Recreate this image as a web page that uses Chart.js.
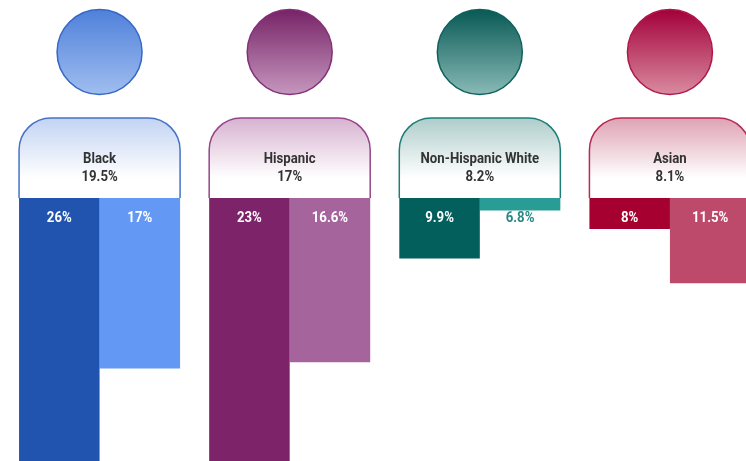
<!DOCTYPE html>
<html>
<head>
<meta charset="utf-8">
<script src="https://cdn.jsdelivr.net/npm/chart.js@4"></script>
<style>
  html, body { margin: 0; padding: 0; background: #fff; overflow: hidden; }
  #wrap { width: 746px; height: 461px; overflow: hidden; position: relative; }
  canvas { display: block; }
</style>
</head>
<body>
<div id="wrap"><canvas id="c" width="765" height="508"></canvas></div>
<script>
// Groups and their figures (percent)
const groups = ['Black', 'Hispanic', 'Non-Hispanic White', 'Asian'];
const overall = [19.5, 17, 8.2, 8.1];
const seriesA = [26, 23, 9.9, 8];
const seriesB = [17, 16.6, 6.8, 11.5];

// Palette per group
const darkColors  = ['#2054AE', '#7C236A', '#035F5B', '#A5002F'];
const lightColors = ['#6399F5', '#A6649D', '#2A9C96', '#BD4A6B'];
const outsideText = ['#3F72C8', '#8C4A80', '#2A8884', '#A83A5A'];
const headTop     = ['#4F80DA', '#772366', '#085955', '#A3003A'];
const headBottom  = ['#A0BEEF', '#C597BE', '#89BAB6', '#D98BA0'];
const headBorder  = ['#3667C8', '#82307A', '#0E615D', '#B0184A'];
const bodyTop     = ['#C2D3F2', '#D7B2D0', '#AECDCA', '#DEA2B4'];
const bodyBorder  = ['#4672C8', '#95458A', '#1F7D77', '#B72A52'];

const FONT = 'Roboto, "Liberation Sans", sans-serif';
const SQUEEZE = 0.88;   // horizontal condensing of label text

function fmt(v) { return v + '%'; }

function condensedText(ctx, text, x, y) {
  ctx.save();
  ctx.translate(x, y);
  ctx.scale(SQUEEZE, 1);
  ctx.fillText(text, 0, 0);
  ctx.restore();
}

// Draws the head and the rounded torso above each pair of bars
const figurePlugin = {
  id: 'figures',
  beforeDatasetsDraw(chart) {
    const ctx = chart.ctx;
    const xs = chart.scales.x;
    const base = chart.scales.y.getBasePixel();
    const meta0 = chart.getDatasetMeta(0);
    const meta1 = chart.getDatasetMeta(1);
    groups.forEach((name, i) => {
      const cx = xs.getPixelForValue(i);
      const left = meta0.data[i].x - meta0.data[i].width / 2;
      const right = meta1.data[i].x + meta1.data[i].width / 2;
      // head
      const hy = base - 146, r = 42.5;
      ctx.save();
      let g = ctx.createLinearGradient(0, hy - r, 0, hy + r);
      g.addColorStop(0, headTop[i]);
      g.addColorStop(1, headBottom[i]);
      ctx.beginPath();
      ctx.arc(cx, hy, r, 0, Math.PI * 2);
      ctx.fillStyle = g;
      ctx.fill();
      ctx.lineWidth = 1.5;
      ctx.strokeStyle = headBorder[i];
      ctx.stroke();
      // torso
      const top = base - 80, rad = 32;
      g = ctx.createLinearGradient(0, top, 0, base);
      g.addColorStop(0, bodyTop[i]);
      g.addColorStop(0.75, '#ffffff');
      g.addColorStop(1, '#ffffff');
      ctx.beginPath();
      ctx.moveTo(left, base);
      ctx.lineTo(left, top + rad);
      ctx.arcTo(left, top, left + rad, top, rad);
      ctx.lineTo(right - rad, top);
      ctx.arcTo(right, top, right, top + rad, rad);
      ctx.lineTo(right, base);
      ctx.fillStyle = g;
      ctx.fill();
      ctx.lineWidth = 1.5;
      ctx.strokeStyle = bodyBorder[i];
      ctx.stroke();
      // label
      ctx.fillStyle = '#333333';
      ctx.font = 'bold 15px ' + FONT;
      ctx.textAlign = 'center';
      ctx.textBaseline = 'middle';
      condensedText(ctx, name, cx, base - 39);
      condensedText(ctx, fmt(overall[i]), cx, base - 21);
      ctx.restore();
    });
  },
  afterDatasetsDraw(chart) {
    const ctx = chart.ctx;
    const base = chart.scales.y.getBasePixel();
    ctx.save();
    ctx.font = 'bold 15px ' + FONT;
    ctx.textAlign = 'center';
    ctx.textBaseline = 'middle';
    chart.data.datasets.forEach((ds, d) => {
      const meta = chart.getDatasetMeta(d);
      meta.data.forEach((bar, i) => {
        const len = Math.abs(bar.y - base);
        ctx.fillStyle = len < 30 ? outsideText[i] : '#ffffff';
        condensedText(ctx, fmt(ds.data[i]), bar.x, base + 20);
      });
    });
    ctx.restore();
  }
};

new Chart(document.getElementById('c'), {
  type: 'bar',
  data: {
    labels: groups,
    datasets: [
      { data: seriesA, backgroundColor: darkColors, borderWidth: 0 },
      { data: seriesB, backgroundColor: lightColors, borderWidth: 0 }
    ]
  },
  options: {
    responsive: false,
    animation: false,
    events: [],
    layout: { padding: { top: 198, left: 4.5, right: 0, bottom: 0 } },
    datasets: { bar: { categoryPercentage: 0.847, barPercentage: 1 } },
    scales: {
      x: { display: false },
      y: { display: false, reverse: true, min: 6, max: 26 }
    },
    plugins: { legend: { display: false }, tooltip: { enabled: false } }
  },
  plugins: [figurePlugin]
});
</script>
</body>
</html>
